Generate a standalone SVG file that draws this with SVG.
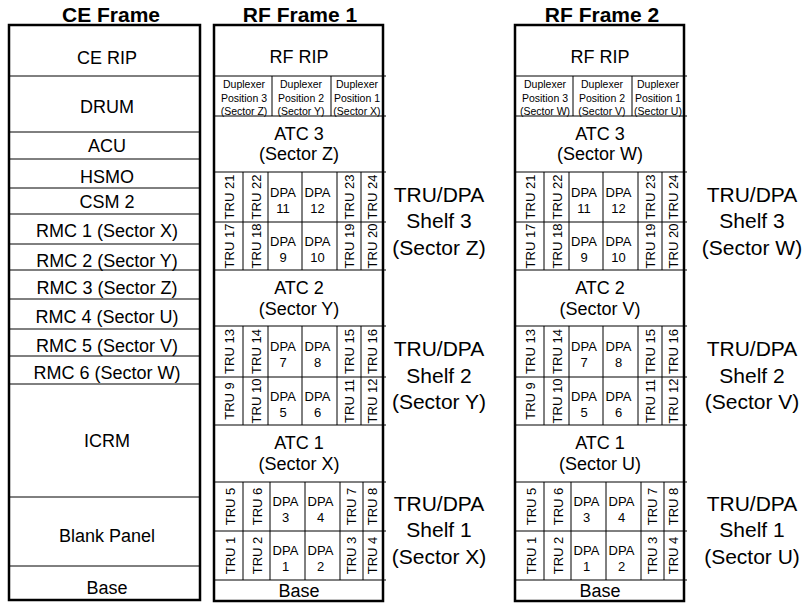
<svg xmlns="http://www.w3.org/2000/svg" width="804" height="604" viewBox="0 0 804 604">
<style>
text{font-family:"Liberation Sans",Arial,sans-serif;fill:#000;text-anchor:middle}
.t{font-size:21px;font-weight:bold}
.l{font-size:18px}
.s{font-size:21px}
.d{font-size:10.5px}
.c{font-size:13px}
.f{fill:#fff;stroke:#000;stroke-width:2.5}
.ln{stroke:#000;stroke-width:1;fill:none}
</style>
<rect width="804" height="604" fill="#fff"/>
<g id="titles">
<text class="t" x="111" y="21.5">CE Frame</text>
<text class="t" x="300" y="21.5">RF Frame 1</text>
<text class="t" x="602" y="21.5">RF Frame 2</text>
</g>
<g id="ce-frame">
<rect class="f" x="9" y="25" width="191" height="575"/>
<path class="ln" d="M9 76H200M9 132H200M9 159H200M9 188H200M9 214H200M9 244H200M9 270H200M9 299H200M9 329H200M9 356H200M9 384H200M9 497H200M9 566H200"/>
<text class="l" x="107" y="64">CE RIP</text>
<text class="l" x="107" y="112.5">DRUM</text>
<text class="l" x="107" y="152">ACU</text>
<text class="l" x="107" y="182.5">HSMO</text>
<text class="l" x="107" y="208">CSM 2</text>
<text class="l" x="107" y="237">RMC 1 (Sector X)</text>
<text class="l" x="107" y="266.5">RMC 2 (Sector Y)</text>
<text class="l" x="107" y="294">RMC 3 (Sector Z)</text>
<text class="l" x="107" y="322.5">RMC 4 (Sector U)</text>
<text class="l" x="107" y="351.5">RMC 5 (Sector V)</text>
<text class="l" x="107" y="379">RMC 6 (Sector W)</text>
<text class="l" x="107" y="446.5">ICRM</text>
<text class="l" x="107" y="541.5">Blank Panel</text>
<text class="l" x="107" y="594">Base</text>
</g>
<g id="rf-frame-1">
<rect class="f" x="214" y="25" width="169" height="576"/>
<path class="ln" d="M214 76H386M214 116H386M214 172H386M214 222H386M214 270H386M214 326H386M214 377H386M214 425H386M214 482H386M214 531H386M214 580H386M272 76V116M331 76V116M243 172V270M268 172V270M302 172V270M337 172V270M361 172V270M243 326V425M268 326V425M302 326V425M337 326V425M361 326V425M243 482V580M270 482V580M305 482V580M340 482V580M363 482V580"/>
<text class="l" x="299" y="63">RF RIP</text>
<text class="d" x="244" y="88">Duplexer</text>
<text class="d" x="244" y="101.5">Position 3</text>
<text class="d" x="244" y="115">(Sector Z)</text>
<text class="d" x="301" y="88">Duplexer</text>
<text class="d" x="301" y="101.5">Position 2</text>
<text class="d" x="301" y="115">(Sector Y)</text>
<text class="d" x="357" y="88">Duplexer</text>
<text class="d" x="357" y="101.5">Position 1</text>
<text class="d" x="357" y="115">(Sector X)</text>
<text class="l" x="299" y="139.5">ATC 3</text>
<text class="l" x="299" y="160">(Sector Z)</text>
<text class="l" x="299" y="293.5">ATC 2</text>
<text class="l" x="299" y="314.5">(Sector Y)</text>
<text class="l" x="299" y="449">ATC 1</text>
<text class="l" x="299" y="470">(Sector X)</text>
<text class="l" x="299" y="597">Base</text>
<g>
<text class="c" transform="translate(229,197) rotate(-90)" y="4.6">TRU 21</text>
<text class="c" transform="translate(256,197) rotate(-90)" y="4.6">TRU 22</text>
<text class="c" transform="translate(349.5,197) rotate(-90)" y="4.6">TRU 23</text>
<text class="c" transform="translate(372,197) rotate(-90)" y="4.6">TRU 24</text>
<text class="c" transform="translate(229,246) rotate(-90)" y="4.6">TRU 17</text>
<text class="c" transform="translate(256,246) rotate(-90)" y="4.6">TRU 18</text>
<text class="c" transform="translate(349.5,246) rotate(-90)" y="4.6">TRU 19</text>
<text class="c" transform="translate(372,246) rotate(-90)" y="4.6">TRU 20</text>
<text class="c" transform="translate(229,351.5) rotate(-90)" y="4.6">TRU 13</text>
<text class="c" transform="translate(256,351.5) rotate(-90)" y="4.6">TRU 14</text>
<text class="c" transform="translate(349.5,351.5) rotate(-90)" y="4.6">TRU 15</text>
<text class="c" transform="translate(372,351.5) rotate(-90)" y="4.6">TRU 16</text>
<text class="c" transform="translate(229,401) rotate(-90)" y="4.6">TRU 9</text>
<text class="c" transform="translate(256,401) rotate(-90)" y="4.6">TRU 10</text>
<text class="c" transform="translate(349.5,401) rotate(-90)" y="4.6">TRU 11</text>
<text class="c" transform="translate(372,401) rotate(-90)" y="4.6">TRU 12</text>
<text class="c" transform="translate(230,506.5) rotate(-90)" y="4.6">TRU 5</text>
<text class="c" transform="translate(257,506.5) rotate(-90)" y="4.6">TRU 6</text>
<text class="c" transform="translate(351.5,506.5) rotate(-90)" y="4.6">TRU 7</text>
<text class="c" transform="translate(372,506.5) rotate(-90)" y="4.6">TRU 8</text>
<text class="c" transform="translate(230,555.5) rotate(-90)" y="4.6">TRU 1</text>
<text class="c" transform="translate(257,555.5) rotate(-90)" y="4.6">TRU 2</text>
<text class="c" transform="translate(351.5,555.5) rotate(-90)" y="4.6">TRU 3</text>
<text class="c" transform="translate(372,555.5) rotate(-90)" y="4.6">TRU 4</text>
<text class="c" x="283" y="196.5">DPA</text><text class="c" x="283" y="212.5">11</text>
<text class="c" x="317.5" y="196.5">DPA</text><text class="c" x="317.5" y="212.5">12</text>
<text class="c" x="283" y="245.5">DPA</text><text class="c" x="283" y="261.5">9</text>
<text class="c" x="317.5" y="245.5">DPA</text><text class="c" x="317.5" y="261.5">10</text>
<text class="c" x="283" y="351">DPA</text><text class="c" x="283" y="367">7</text>
<text class="c" x="317.5" y="351">DPA</text><text class="c" x="317.5" y="367">8</text>
<text class="c" x="283" y="400.5">DPA</text><text class="c" x="283" y="416.5">5</text>
<text class="c" x="317.5" y="400.5">DPA</text><text class="c" x="317.5" y="416.5">6</text>
<text class="c" x="285.5" y="506">DPA</text><text class="c" x="285.5" y="522">3</text>
<text class="c" x="320.5" y="506">DPA</text><text class="c" x="320.5" y="522">4</text>
<text class="c" x="285.5" y="555">DPA</text><text class="c" x="285.5" y="571">1</text>
<text class="c" x="320.5" y="555">DPA</text><text class="c" x="320.5" y="571">2</text>
</g>
</g>
<g id="rf1-shelf-3"><text class="s" x="439" y="201.5">TRU/DPA</text><text class="s" x="439" y="228">Shelf 3</text><text class="s" x="439" y="254.5">(Sector Z)</text></g>
<g id="rf1-shelf-2"><text class="s" x="439" y="356">TRU/DPA</text><text class="s" x="439" y="382.5">Shelf 2</text><text class="s" x="439" y="409">(Sector Y)</text></g>
<g id="rf1-shelf-1"><text class="s" x="439" y="510.5">TRU/DPA</text><text class="s" x="439" y="537">Shelf 1</text><text class="s" x="439" y="563.5">(Sector X)</text></g>
<g id="rf-frame-2">
<rect class="f" x="515" y="25" width="169" height="576"/>
<path class="ln" d="M515 76H687M515 116H687M515 172H687M515 222H687M515 270H687M515 326H687M515 377H687M515 425H687M515 482H687M515 531H687M515 580H687M573 76V116M632 76V116M544 172V270M569 172V270M603 172V270M638 172V270M662 172V270M544 326V425M569 326V425M603 326V425M638 326V425M662 326V425M544 482V580M571 482V580M606 482V580M641 482V580M664 482V580"/>
<text class="l" x="600" y="63">RF RIP</text>
<text class="d" x="545" y="88">Duplexer</text>
<text class="d" x="545" y="101.5">Position 3</text>
<text class="d" x="545" y="115">(Sector W)</text>
<text class="d" x="602" y="88">Duplexer</text>
<text class="d" x="602" y="101.5">Position 2</text>
<text class="d" x="602" y="115">(Sector V)</text>
<text class="d" x="658" y="88">Duplexer</text>
<text class="d" x="658" y="101.5">Position 1</text>
<text class="d" x="658" y="115">(Sector U)</text>
<text class="l" x="600" y="139.5">ATC 3</text>
<text class="l" x="600" y="160">(Sector W)</text>
<text class="l" x="600" y="293.5">ATC 2</text>
<text class="l" x="600" y="314.5">(Sector V)</text>
<text class="l" x="600" y="449">ATC 1</text>
<text class="l" x="600" y="470">(Sector U)</text>
<text class="l" x="600" y="597">Base</text>
<g>
<text class="c" transform="translate(530,197) rotate(-90)" y="4.6">TRU 21</text>
<text class="c" transform="translate(557,197) rotate(-90)" y="4.6">TRU 22</text>
<text class="c" transform="translate(650.5,197) rotate(-90)" y="4.6">TRU 23</text>
<text class="c" transform="translate(673,197) rotate(-90)" y="4.6">TRU 24</text>
<text class="c" transform="translate(530,246) rotate(-90)" y="4.6">TRU 17</text>
<text class="c" transform="translate(557,246) rotate(-90)" y="4.6">TRU 18</text>
<text class="c" transform="translate(650.5,246) rotate(-90)" y="4.6">TRU 19</text>
<text class="c" transform="translate(673,246) rotate(-90)" y="4.6">TRU 20</text>
<text class="c" transform="translate(530,351.5) rotate(-90)" y="4.6">TRU 13</text>
<text class="c" transform="translate(557,351.5) rotate(-90)" y="4.6">TRU 14</text>
<text class="c" transform="translate(650.5,351.5) rotate(-90)" y="4.6">TRU 15</text>
<text class="c" transform="translate(673,351.5) rotate(-90)" y="4.6">TRU 16</text>
<text class="c" transform="translate(530,401) rotate(-90)" y="4.6">TRU 9</text>
<text class="c" transform="translate(557,401) rotate(-90)" y="4.6">TRU 10</text>
<text class="c" transform="translate(650.5,401) rotate(-90)" y="4.6">TRU 11</text>
<text class="c" transform="translate(673,401) rotate(-90)" y="4.6">TRU 12</text>
<text class="c" transform="translate(531,506.5) rotate(-90)" y="4.6">TRU 5</text>
<text class="c" transform="translate(558,506.5) rotate(-90)" y="4.6">TRU 6</text>
<text class="c" transform="translate(652.5,506.5) rotate(-90)" y="4.6">TRU 7</text>
<text class="c" transform="translate(673,506.5) rotate(-90)" y="4.6">TRU 8</text>
<text class="c" transform="translate(531,555.5) rotate(-90)" y="4.6">TRU 1</text>
<text class="c" transform="translate(558,555.5) rotate(-90)" y="4.6">TRU 2</text>
<text class="c" transform="translate(652.5,555.5) rotate(-90)" y="4.6">TRU 3</text>
<text class="c" transform="translate(673,555.5) rotate(-90)" y="4.6">TRU 4</text>
<text class="c" x="584" y="196.5">DPA</text><text class="c" x="584" y="212.5">11</text>
<text class="c" x="618.5" y="196.5">DPA</text><text class="c" x="618.5" y="212.5">12</text>
<text class="c" x="584" y="245.5">DPA</text><text class="c" x="584" y="261.5">9</text>
<text class="c" x="618.5" y="245.5">DPA</text><text class="c" x="618.5" y="261.5">10</text>
<text class="c" x="584" y="351">DPA</text><text class="c" x="584" y="367">7</text>
<text class="c" x="618.5" y="351">DPA</text><text class="c" x="618.5" y="367">8</text>
<text class="c" x="584" y="400.5">DPA</text><text class="c" x="584" y="416.5">5</text>
<text class="c" x="618.5" y="400.5">DPA</text><text class="c" x="618.5" y="416.5">6</text>
<text class="c" x="586.5" y="506">DPA</text><text class="c" x="586.5" y="522">3</text>
<text class="c" x="621.5" y="506">DPA</text><text class="c" x="621.5" y="522">4</text>
<text class="c" x="586.5" y="555">DPA</text><text class="c" x="586.5" y="571">1</text>
<text class="c" x="621.5" y="555">DPA</text><text class="c" x="621.5" y="571">2</text>
</g>
</g>
<g id="rf2-shelf-3"><text class="s" x="752" y="201.5">TRU/DPA</text><text class="s" x="752" y="228">Shelf 3</text><text class="s" x="752" y="254.5">(Sector W)</text></g>
<g id="rf2-shelf-2"><text class="s" x="752" y="356">TRU/DPA</text><text class="s" x="752" y="382.5">Shelf 2</text><text class="s" x="752" y="409">(Sector V)</text></g>
<g id="rf2-shelf-1"><text class="s" x="752" y="510.5">TRU/DPA</text><text class="s" x="752" y="537">Shelf 1</text><text class="s" x="752" y="563.5">(Sector U)</text></g>
</svg>
